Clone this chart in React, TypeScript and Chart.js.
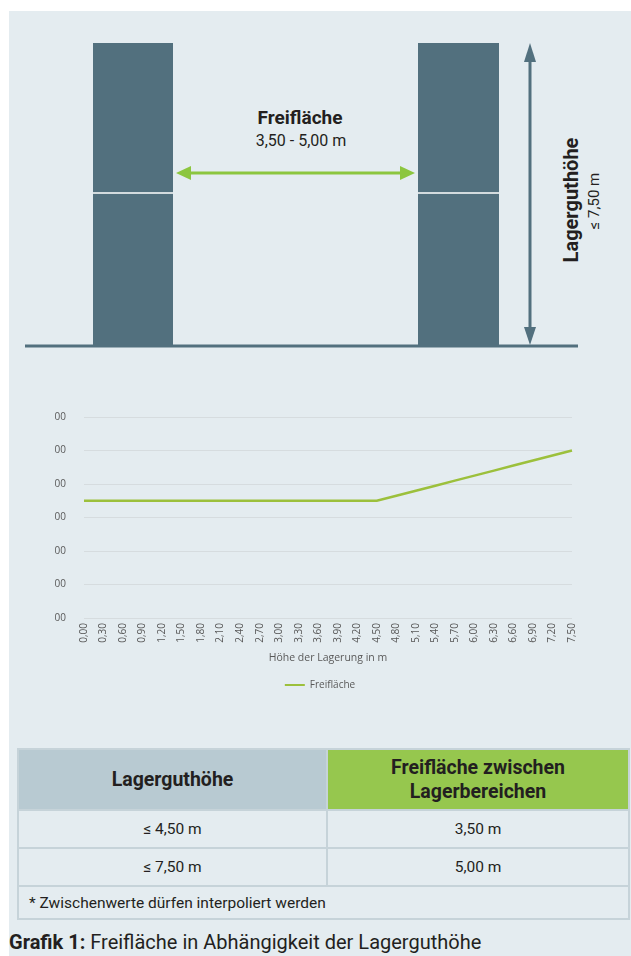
import React, { useEffect, useRef } from "react";
import { Chart, registerables } from "chart.js";

Chart.register(...registerables);

// ---- Data ----
const heightLabels: string[] = [
  "0,00", "0,30", "0,60", "0,90", "1,20", "1,50", "1,80", "2,10", "2,40", "2,70",
  "3,00", "3,30", "3,60", "3,90", "4,20", "4,50", "4,80", "5,10", "5,40", "5,70",
  "6,00", "6,30", "6,60", "6,90", "7,20", "7,50",
];
const freiflaecheValues: number[] = [
  3.5, 3.5, 3.5, 3.5, 3.5, 3.5, 3.5, 3.5, 3.5, 3.5,
  3.5, 3.5, 3.5, 3.5, 3.5, 3.5, 3.65, 3.8, 3.95, 4.1,
  4.25, 4.4, 4.55, 4.7, 4.85, 5.0,
];
const yTickLabels: string[] = ["00", "00", "00", "00", "00", "00", "00"];
const seriesName = "Freifläche";
const xAxisTitle = "Höhe der Lagerung in m";

const tableHeader: string[] = ["Lagerguthöhe", "Freifläche zwischen\nLagerbereichen"];
const tableRows: string[][] = [
  ["≤ 4,50 m", "3,50 m"],
  ["≤ 7,50 m", "5,00 m"],
];
const tableNote = "* Zwischenwerte dürfen interpoliert werden";

const PANEL = "#e4ecf0";
const SLATE = "#52707e";
const GREEN = "#8cc63f";
const FONT = "Roboto, 'Open Sans', sans-serif";
const CHART_FONT = "'Open Sans', 'Liberation Sans', sans-serif";

// shifts the legend so that it is centred on the whole figure, as in the original
const legendShift = {
  id: "legendShift",
  afterLayout(chart: any) {
    const lg = chart.legend;
    if (lg) {
      lg.left += 14;
      lg.right += 14;
    }
  },
};

function LineChart() {
  const ref = useRef<HTMLCanvasElement | null>(null);
  useEffect(() => {
    if (!ref.current) return;
    const chart = new Chart(ref.current, {
      type: "line",
      data: {
        labels: heightLabels,
        datasets: [
          {
            label: seriesName,
            data: freiflaecheValues,
            borderColor: "#9cc03c",
            backgroundColor: "#9cc03c",
            borderWidth: 2.5,
            pointRadius: 0,
            tension: 0,
          },
        ],
      },
      plugins: [legendShift],
      options: {
        animation: false,
        responsive: false,
        maintainAspectRatio: false,
        layout: { padding: { left: 0, right: 28, top: 11, bottom: 0 } },
        plugins: {
          tooltip: { enabled: false },
          legend: {
            position: "bottom",
            labels: {
              color: "#595959",
              font: { family: CHART_FONT, size: 10 },
              boxWidth: 20,
              boxHeight: 2,
              padding: 8,
              generateLabels: (c: any) => {
                const items = Chart.defaults.plugins.legend.labels.generateLabels(c);
                return items.map((it: any) => ({ ...it, lineWidth: 0 }));
              },
            },
          },
        },
        scales: {
          x: {
            grid: { display: false, drawTicks: false },
            border: { display: false },
            ticks: {
              color: "#595959",
              font: { family: CHART_FONT, size: 10 },
              minRotation: 90,
              maxRotation: 90,
              autoSkip: false,
              padding: 5,
            },
            title: {
              display: true,
              text: xAxisTitle,
              color: "#595959",
              font: { family: CHART_FONT, size: 10.5 },
              padding: { top: 0, bottom: 8 },
            },
            afterFit: (s: any) => {
              s.height = 54;
            },
          },
          y: {
            min: 0,
            max: 6,
            grid: { color: "#d6dcdf", lineWidth: 1, drawTicks: false },
            border: { display: false },
            ticks: {
              stepSize: 1,
              color: "#595959",
              font: { family: CHART_FONT, size: 10 },
              padding: 18,
              callback: (_v: any, i: number) => yTickLabels[i],
            },
            afterFit: (s: any) => {
              s.width = 44;
            },
          },
        },
      },
    });
    return () => chart.destroy();
  }, []);
  return (
    <canvas
      ref={ref}
      width={560}
      height={307}
      style={{ position: "absolute", left: 40, top: 393, width: 560, height: 307 }}
    />
  );
}

function Diagram() {
  return (
    <svg
      width={631}
      height={360}
      style={{ position: "absolute", left: 0, top: 0 }}
    >
      {/* storage blocks */}
      <rect x={93} y={43} width={80} height={303} fill={SLATE} />
      <rect x={418} y={43} width={81} height={303} fill={SLATE} />
      <line x1={93} y1={193} x2={173} y2={193} stroke="#ffffff" strokeWidth={1.5} />
      <line x1={418} y1={193} x2={499} y2={193} stroke="#ffffff" strokeWidth={1.5} />
      {/* ground */}
      <line x1={25} y1={346} x2={578} y2={346} stroke={SLATE} strokeWidth={3} />
      {/* vertical arrow */}
      <line x1={530} y1={58} x2={530} y2={330} stroke={SLATE} strokeWidth={3} />
      <polygon points="530,43 524,62 536,62" fill={SLATE} />
      <polygon points="530,345 524,327 536,327" fill={SLATE} />
      {/* green arrow */}
      <line x1={188} y1={173} x2={403} y2={173} stroke={GREEN} strokeWidth={3} />
      <polygon points="176,173 191,166 191,180" fill={GREEN} />
      <polygon points="415,173 400,166 400,180" fill={GREEN} />
      {/* texts */}
      <text x={300} y={124} textAnchor="middle" fontFamily={FONT} fontWeight={700} fontSize={19} fill="#231f20">
        Freifläche
      </text>
      <text x={301} y={146} textAnchor="middle" fontFamily={FONT} fontSize={16} fill="#231f20">
        3,50 - 5,00 m
      </text>
      <text
        x={0}
        y={0}
        transform="translate(578,200) rotate(-90)"
        textAnchor="middle"
        fontFamily={FONT}
        fontWeight={700}
        fontSize={20}
        fill="#231f20"
      >
        Lagerguthöhe
      </text>
      <text
        x={0}
        y={0}
        transform="translate(599,201) rotate(-90)"
        textAnchor="middle"
        fontFamily={FONT}
        fontSize={15}
        fill="#231f20"
      >
        ≤ 7,50 m
      </text>
    </svg>
  );
}

function Table() {
  const border = "2px solid #c6d3d9";
  const cell: React.CSSProperties = {
    border,
    textAlign: "center",
    verticalAlign: "middle",
    fontFamily: FONT,
    fontSize: 15.5,
    color: "#231f20",
    padding: 0,
  };
  return (
    <table
      style={{
        position: "absolute",
        left: 17,
        top: 748,
        width: 611,
        borderCollapse: "collapse",
        tableLayout: "fixed",
      }}
    >
      <colgroup>
        <col style={{ width: 309 }} />
        <col style={{ width: 302 }} />
      </colgroup>
      <tbody>
        <tr style={{ height: 61 }}>
          <th style={{ ...cell, background: "#b8cad2", fontSize: 19.5, fontWeight: 700, lineHeight: "24px" }}>
            {tableHeader[0]}
          </th>
          <th
            style={{
              ...cell,
              background: "#96c74e",
              fontSize: 19.5,
              fontWeight: 700,
              lineHeight: "24px",
              whiteSpace: "pre-line",
            }}
          >
            {tableHeader[1]}
          </th>
        </tr>
        {tableRows.map((r, i) => (
          <tr key={i} style={{ height: 38 }}>
            <td style={cell}>{r[0]}</td>
            <td style={cell}>{r[1]}</td>
          </tr>
        ))}
        <tr style={{ height: 33 }}>
          <td colSpan={2} style={{ ...cell, textAlign: "left", paddingLeft: 10 }}>
            {tableNote}
          </td>
        </tr>
      </tbody>
    </table>
  );
}

export default function App() {
  return (
    <div style={{ position: "absolute", left: 0, top: 0, width: 631, height: 956, background: "#ffffff", overflow: "hidden" }}>
      <div style={{ position: "absolute", left: 9, top: 11, width: 622, height: 945, background: PANEL }} />
      <Diagram />
      <LineChart />
      <Table />
      <div
        style={{
          position: "absolute",
          left: 9,
          top: 929,
          fontFamily: FONT,
          fontSize: 20,
          lineHeight: "26px",
          color: "#231f20",
          whiteSpace: "nowrap",
        }}
      >
        <b>Grafik 1:</b> Freifläche in Abhängigkeit der Lagerguthöhe
      </div>
    </div>
  );
}
